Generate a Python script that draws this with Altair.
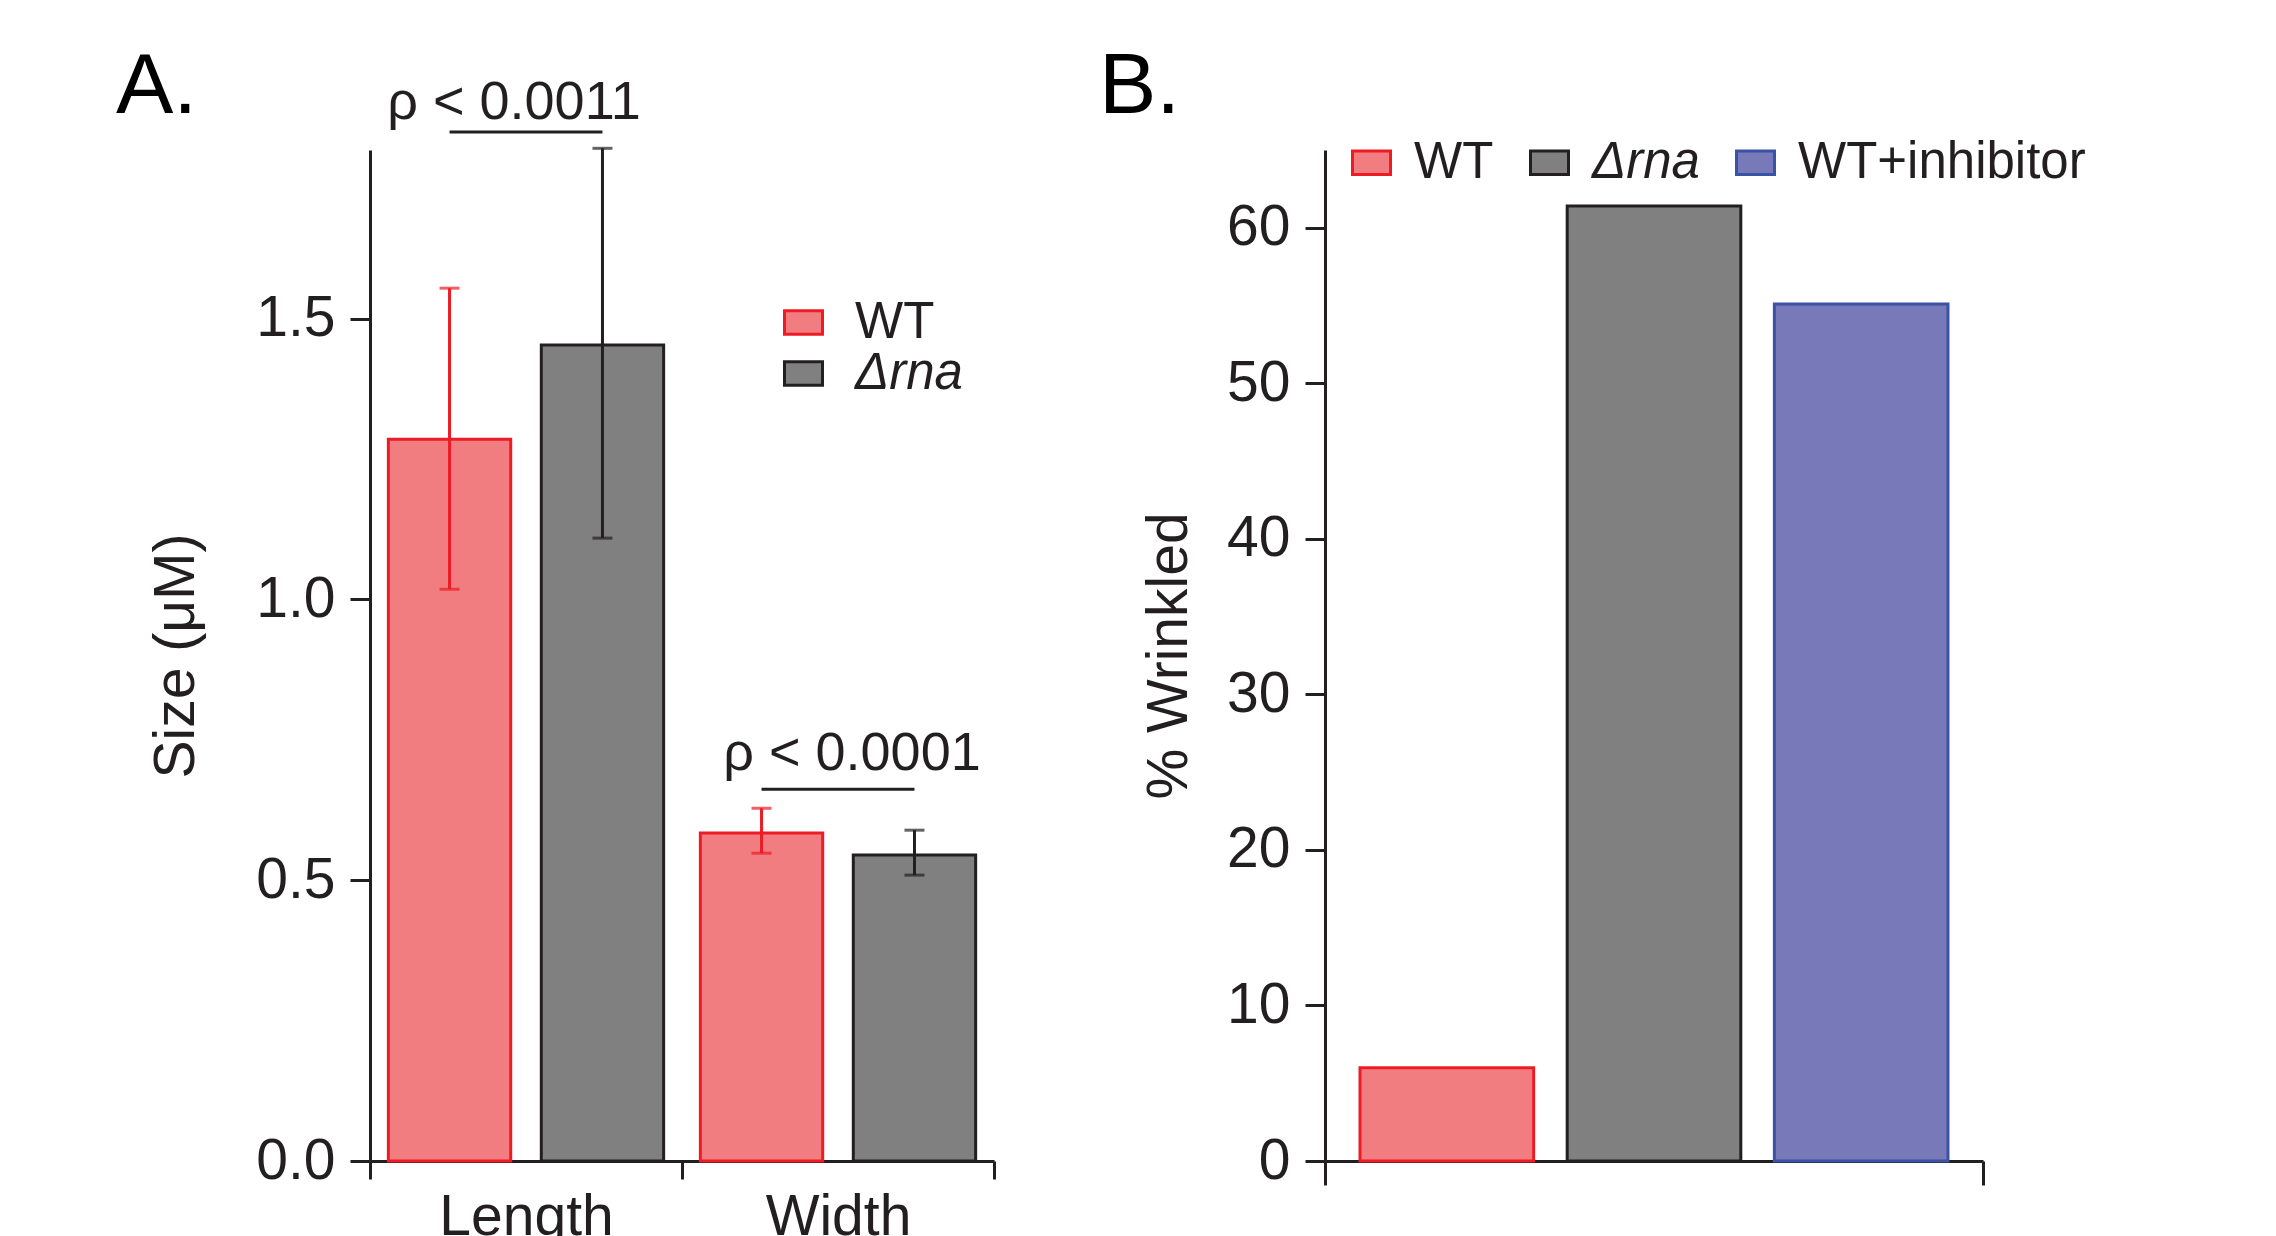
import altair as alt
import pandas as pd

FONT = "Liberation Sans"
INK = "#231F20"

# ---------------- data ----------------
# Panel A: cell size
groups_a = ["Length", "Length", "Width", "Width"]
strains_a = ["WT", "Δrna", "WT", "Δrna"]
size_mean = [1.285, 1.453, 0.584, 0.545]
size_lo = [1.018, 1.109, 0.548, 0.509]
size_hi = [1.554, 1.803, 0.628, 0.589]

# significance annotations
pval_groups = ["Length", "Width"]
pval_labels = ["ρ < 0.0011", "ρ < 0.0001"]
pval_line_y = [1.832, 0.662]
pval_text_y = [1.855, 0.696]

# Panel B: % wrinkled
strains_b = ["WT", "Δrna", "WT+inhibitor"]
wrinkled = [6.0, 61.4, 55.1]

strain_domain = ["WT", "Δrna", "WT+inhibitor"]
fill_range = ["#F27D80", "#808080", "#7779B8"]
stroke_range = ["#ED1C24", INK, "#3A53A4"]

# ---------------- tables ----------------
dfa = pd.DataFrame({"group": groups_a, "strain": strains_a,
                    "mean": size_mean, "lo": size_lo, "hi": size_hi})
line_rows = []
for g, ly in zip(pval_groups, pval_line_y):
    for s in ["WT", "Δrna"]:
        line_rows.append({"group": g, "strain": s, "level": ly})
df_line = pd.DataFrame(line_rows)
df_ptext = pd.DataFrame({"group": pval_groups, "label": pval_labels, "level": pval_text_y})
dfb = pd.DataFrame({"grp": [""] * len(strains_b), "strain": strains_b, "value": wrinkled})

RECT = "M-1,-0.62H1V0.62H-1Z"
ITALIC_RNA = alt.ExprRef(expr="datum.value === 'Δrna' ? 'italic' : 'normal'")

# ---------------- panel A ----------------
dom_a = strain_domain[:2]
xa = alt.X("group:N", sort=["Length", "Width"],
           scale=alt.Scale(paddingInner=0, paddingOuter=0),
           axis=alt.Axis(title=None, tickBand="extent", labelAngle=0, tickSize=18,
                         labelPadding=10))
xoa = alt.XOffset("strain:N", sort=dom_a,
                  scale=alt.Scale(domain=dom_a, paddingInner=0.2, paddingOuter=0.12))
ya_axis = alt.Axis(title="Size (μM)", values=[0, 0.5, 1.0, 1.5], format=".1f",
                   tickSize=20, labelPadding=15, titlePadding=50)
ya_scale = alt.Scale(domain=[0, 1.8], nice=False)

leg_a = alt.Legend(title=None, orient="none", legendX=408, legendY=147,
                   symbolType=RECT, symbolSize=1444, symbolStrokeWidth=3,
                   labelFont=FONT, labelFontSize=51, labelColor=INK, labelOffset=26,
                   rowPadding=-4, padding=0, labelLimit=0,
                   labelFontStyle=ITALIC_RNA)
fill_a = alt.Fill("strain:N", scale=alt.Scale(domain=dom_a, range=fill_range[:2]), legend=leg_a)
stroke_a = alt.Stroke("strain:N", scale=alt.Scale(domain=dom_a, range=stroke_range[:2]), legend=leg_a)
col_a = alt.Color("strain:N", scale=alt.Scale(domain=dom_a, range=stroke_range[:2]), legend=None)

bars_a = alt.Chart(dfa).mark_bar(strokeWidth=3).encode(
    x=xa, xOffset=xoa, y=alt.Y("mean:Q", scale=ya_scale, axis=ya_axis),
    fill=fill_a, stroke=stroke_a)
err_a = alt.Chart(dfa).mark_rule(strokeWidth=3).encode(
    x=xa, xOffset=xoa, y=alt.Y("lo:Q", scale=ya_scale, axis=ya_axis), y2="hi:Q",
    stroke=stroke_a)
cap_lo = alt.Chart(dfa).mark_tick(thickness=3, size=20).encode(
    x=xa, xOffset=xoa, y=alt.Y("lo:Q", scale=ya_scale, axis=ya_axis), color=col_a)
cap_hi = alt.Chart(dfa).mark_tick(thickness=3, size=20).encode(
    x=xa, xOffset=xoa, y=alt.Y("hi:Q", scale=ya_scale, axis=ya_axis), color=col_a)
brk = alt.Chart(df_line).mark_line(strokeWidth=3, color=INK).encode(
    x=xa, xOffset=xoa, y=alt.Y("level:Q", scale=ya_scale, axis=ya_axis), detail="group:N")

ptxt_base = alt.Chart(df_ptext)
ptxt_len = ptxt_base.transform_filter(alt.datum.group == "Length").mark_text(
    font=FONT, fontSize=54, color=INK, baseline="alphabetic", align="center", dx=-12).encode(
    x=xa, y=alt.Y("level:Q", scale=ya_scale, axis=ya_axis), text="label:N")
ptxt_wid = ptxt_base.transform_filter(alt.datum.group == "Width").mark_text(
    font=FONT, fontSize=54, color=INK, baseline="alphabetic", align="center", dx=14).encode(
    x=xa, y=alt.Y("level:Q", scale=ya_scale, axis=ya_axis), text="label:N")

lab_a = alt.Chart(pd.DataFrame({"t": ["A."]})).mark_text(
    font=FONT, fontSize=86, color="black", align="left", baseline="alphabetic").encode(
    x=alt.value(-254), y=alt.value(-37), text="t:N")

panel_a = alt.layer(bars_a, err_a, cap_lo, cap_hi, brk, ptxt_len, ptxt_wid, lab_a).properties(
    width=624, height=1011)

# ---------------- panel B ----------------
xb = alt.X("grp:N", scale=alt.Scale(paddingInner=0, paddingOuter=0),
           axis=alt.Axis(title=None, tickBand="extent", labels=False, tickSize=24))
xob = alt.XOffset("strain:N", sort=strain_domain,
                  scale=alt.Scale(domain=strain_domain, paddingInner=0.162, paddingOuter=0.169))
yb = alt.Y("value:Q", scale=alt.Scale(domain=[0, 65], nice=False),
           axis=alt.Axis(title="% Wrinkled", values=[0, 10, 20, 30, 40, 50, 60],
                         tickSize=20, labelPadding=15, titlePadding=28))
leg_b = alt.Legend(title=None, orient="none", direction="horizontal", legendX=21, legendY=-13,
                   symbolType=RECT, symbolSize=1444, symbolStrokeWidth=3,
                   labelFont=FONT, labelFontSize=51, labelColor=INK, labelOffset=17,
                   columnPadding=30, padding=0, labelLimit=0,
                   labelFontStyle=ITALIC_RNA)
bars_b = alt.Chart(dfb).mark_bar(strokeWidth=3).encode(
    x=xb, xOffset=xob, y=yb,
    fill=alt.Fill("strain:N", scale=alt.Scale(domain=strain_domain, range=fill_range), legend=leg_b),
    stroke=alt.Stroke("strain:N", scale=alt.Scale(domain=strain_domain, range=stroke_range), legend=leg_b))
lab_b = alt.Chart(pd.DataFrame({"t": ["B."]})).mark_text(
    font=FONT, fontSize=86, color="black", align="left", baseline="alphabetic").encode(
    x=alt.value(-226), y=alt.value(-37), text="t:N")
panel_b = alt.layer(bars_b, lab_b).properties(width=658, height=1011)

chart = alt.hconcat(panel_a, panel_b, spacing=103).resolve_scale(
    fill="independent", stroke="independent", color="independent",
    x="independent", y="independent", xOffset="independent"
).properties(
    padding={"left": 108, "top": 36, "right": 10, "bottom": 10},
    background="white"
).configure_view(stroke=None).configure_axis(
    domainColor=INK, domainWidth=3, tickColor=INK, tickWidth=3,
    labelFont=FONT, labelFontSize=57, labelColor=INK,
    titleFont=FONT, titleFontSize=57, titleFontWeight="normal", titleColor=INK,
    grid=False
)

chart.save("out.html", embed_options={"renderer": "svg", "actions": False})
